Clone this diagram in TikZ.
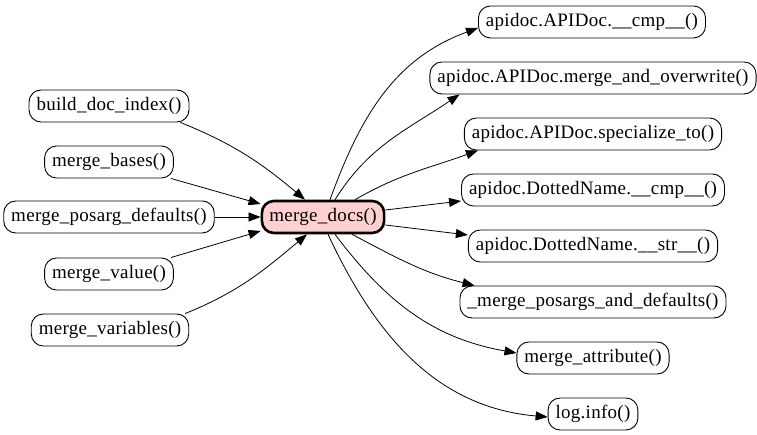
\documentclass[tikz,border=0pt]{standalone}
\usepackage{fontspec}
\setmainfont{Liberation Serif}
\newfontfamily\dotfont{Liberation Serif}[LetterSpace=1.5]
\usetikzlibrary{arrows.meta}
\definecolor{pinkfill}{RGB}{255,208,208}
\tikzset{
  fn/.style={draw, line width=0.9pt, rounded corners=12pt, minimum height=32pt, inner xsep=7.5pt, inner ysep=0pt, font=\dotfont\fontsize{19}{20}\selectfont, fill=white},
  focus/.style={fn, fill=pinkfill, line width=2.6pt},
  edge/.style={line width=0.8pt, -{Triangle[length=12pt,width=9pt]}}
}
\begin{document}
\begin{tikzpicture}[x=1pt,y=1pt]
\fill[white] (0,0) rectangle (757,435);
\useasboundingbox (0,0) rectangle (757,435);
% left callers
\node[fn] (bdi) at (109,329) {build\_doc\_index()};
\node[fn] (mb) at (109,273) {merge\_bases()};
\node[fn] (mpd) at (109,218) {merge\_posarg\_defaults()};
\node[fn] (mv) at (109,161) {merge\_value()};
\node[fn] (mvar) at (110,105) {merge\_variables()};
% focus
\node[focus] (md) at (323,218) {merge\_docs()};
% right callees
\node[fn] (r1) at (592,413) {apidoc.APIDoc.\_\_cmp\_\_()};
\node[fn] (r2) at (593,357) {apidoc.APIDoc.merge\_and\_overwrite()};
\node[fn] (r3) at (593,301) {apidoc.APIDoc.specialize\_to()};
\node[fn] (r4) at (593,245) {apidoc.DottedName.\_\_cmp\_\_()};
\node[fn] (r5) at (593,189) {apidoc.DottedName.\_\_str\_\_()};
\node[fn] (r6) at (593,133) {\_merge\_posargs\_and\_defaults()};
\node[fn] (r7) at (593,77) {merge\_attribute()};
\node[fn] (r8) at (593,21) {log.info()};
% incoming edges
\draw[edge] ([xshift=-9pt]bdi.south east) to[out=-22,in=140] ([xshift=-18pt]md.north);
\draw[edge] ([xshift=-3pt]mb.south east) -- ([yshift=13pt]md.west);
\draw[edge] (mpd.east) -- (md.west);
\draw[edge] ([xshift=-3pt]mv.north east) -- ([yshift=-14pt]md.west);
\draw[edge] ([xshift=-4pt]mvar.north east) to[out=22,in=220] ([xshift=-16pt]md.south);
% outgoing edges
\draw[edge] ([xshift=7pt]md.north) to[out=70,in=200] ([yshift=-6pt]r1.west);
\draw[edge] ([xshift=12pt]md.north) to[out=58,in=214] ([xshift=30pt]r2.south west);
\draw[edge] ([xshift=32pt]md.north) to[out=30,in=200] ([xshift=14pt]r3.south west);
\draw[edge] ([yshift=7pt]md.east) -- ([yshift=-11pt]r4.west);
\draw[edge] ([yshift=-8pt]md.east) -- ([yshift=11pt]r5.west);
\draw[edge] ([xshift=29pt]md.south) to[out=-28,in=166] ([xshift=15pt]r6.north west);
\draw[edge] ([xshift=12pt]md.south) to[out=-53,in=170] ([yshift=5pt]r7.west);
\draw[edge] ([xshift=5pt]md.south) to[out=-65,in=175] ([yshift=-3pt]r8.west);
\end{tikzpicture}
\end{document}
